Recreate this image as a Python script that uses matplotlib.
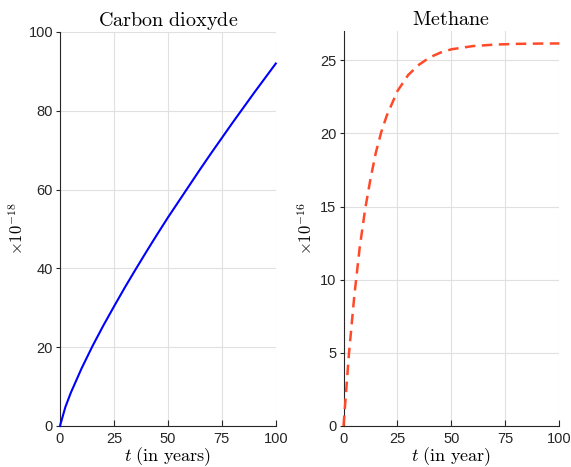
import numpy as np
import matplotlib
matplotlib.use('Agg')
import matplotlib.pyplot as plt

plt.rcParams['mathtext.fontset'] = 'cm'
plt.rcParams['font.family'] = ['Liberation Sans', 'DejaVu Sans']

# Carbon dioxyde (x 1e-18)
t_co2 = [0, 2.5, 5, 10, 15, 20, 25, 30, 35, 40, 45, 50, 55, 60, 65, 70, 75, 80, 85, 90, 95, 100]
co2 = [0, 4.8, 8.4, 14.6, 20.2, 25.4, 30.3, 35.1, 39.7, 44.2, 48.6, 52.9, 57.0, 61.1,
       65.2, 69.2, 73.1, 77.0, 80.8, 84.6, 88.3, 92.0]

# Methane (x 1e-16)
t_ch4 = [0, 2.5, 5, 7.5, 10, 12.5, 15, 17.5, 20, 25, 30, 35, 40, 45, 50, 60, 70, 80, 90, 100]
ch4 = [0, 4.9, 8.9, 12.2, 14.8, 16.9, 18.7, 20.1, 21.2, 22.9, 24.0, 24.7, 25.2, 25.53,
       25.75, 25.97, 26.07, 26.12, 26.14, 26.15]

xticks = [0, 25, 50, 75, 100]
axcol = '#262626'

fig = plt.figure(figsize=(5.71, 4.67), dpi=100)
ax1 = fig.add_axes([0.105, 0.0878, 0.378, 0.8437])
ax2 = fig.add_axes([0.6016, 0.0878, 0.378, 0.8458])

def style(ax):
    ax.set_xlim(0, 100)
    ax.set_xticks(xticks)
    ax.grid(True, color='#e0e0e0', linewidth=0.8)
    ax.set_axisbelow(True)
    for s in ['top', 'right']:
        ax.spines[s].set_visible(False)
    for s in ['left', 'bottom']:
        ax.spines[s].set_color(axcol)
        ax.spines[s].set_linewidth(0.8)
    ax.tick_params(axis='x', direction='in', length=4, color=axcol, labelcolor=axcol,
                   labelsize=10.5, pad=4)
    ax.tick_params(axis='y', direction='out', length=3, color=axcol, labelcolor=axcol,
                   labelsize=10.5, pad=2)

ax1.plot(t_co2, co2, color='#0000ff', linewidth=1.5, clip_on=False, zorder=3)
style(ax1)
ax1.set_ylim(0, 100)
ax1.set_yticks([0, 20, 40, 60, 80, 100])
ax1.set_title(r'$\mathrm{Carbon\ dioxyde}$', fontsize=14.5, pad=4)
ax1.set_xlabel(r'$t\ \mathrm{(in\ years)}$', fontsize=13, labelpad=0)
ax1.set_ylabel(r'$\times10^{-18}$', fontsize=12, labelpad=2)

ax2.plot(t_ch4, ch4, color='#ff4a2a', linewidth=1.8, linestyle=(0, (4.2, 2.6)),
         clip_on=False, zorder=3)
style(ax2)
ax2.set_ylim(0, 27)
ax2.set_yticks([0, 5, 10, 15, 20, 25])
ax2.set_title(r'$\mathrm{Methane}$', fontsize=14.5, pad=4)
ax2.set_xlabel(r'$t\ \mathrm{(in\ year)}$', fontsize=13, labelpad=0)
ax2.set_ylabel(r'$\times10^{-16}$', fontsize=12, labelpad=4)

fig.savefig('out.png', dpi=100, facecolor='white')
